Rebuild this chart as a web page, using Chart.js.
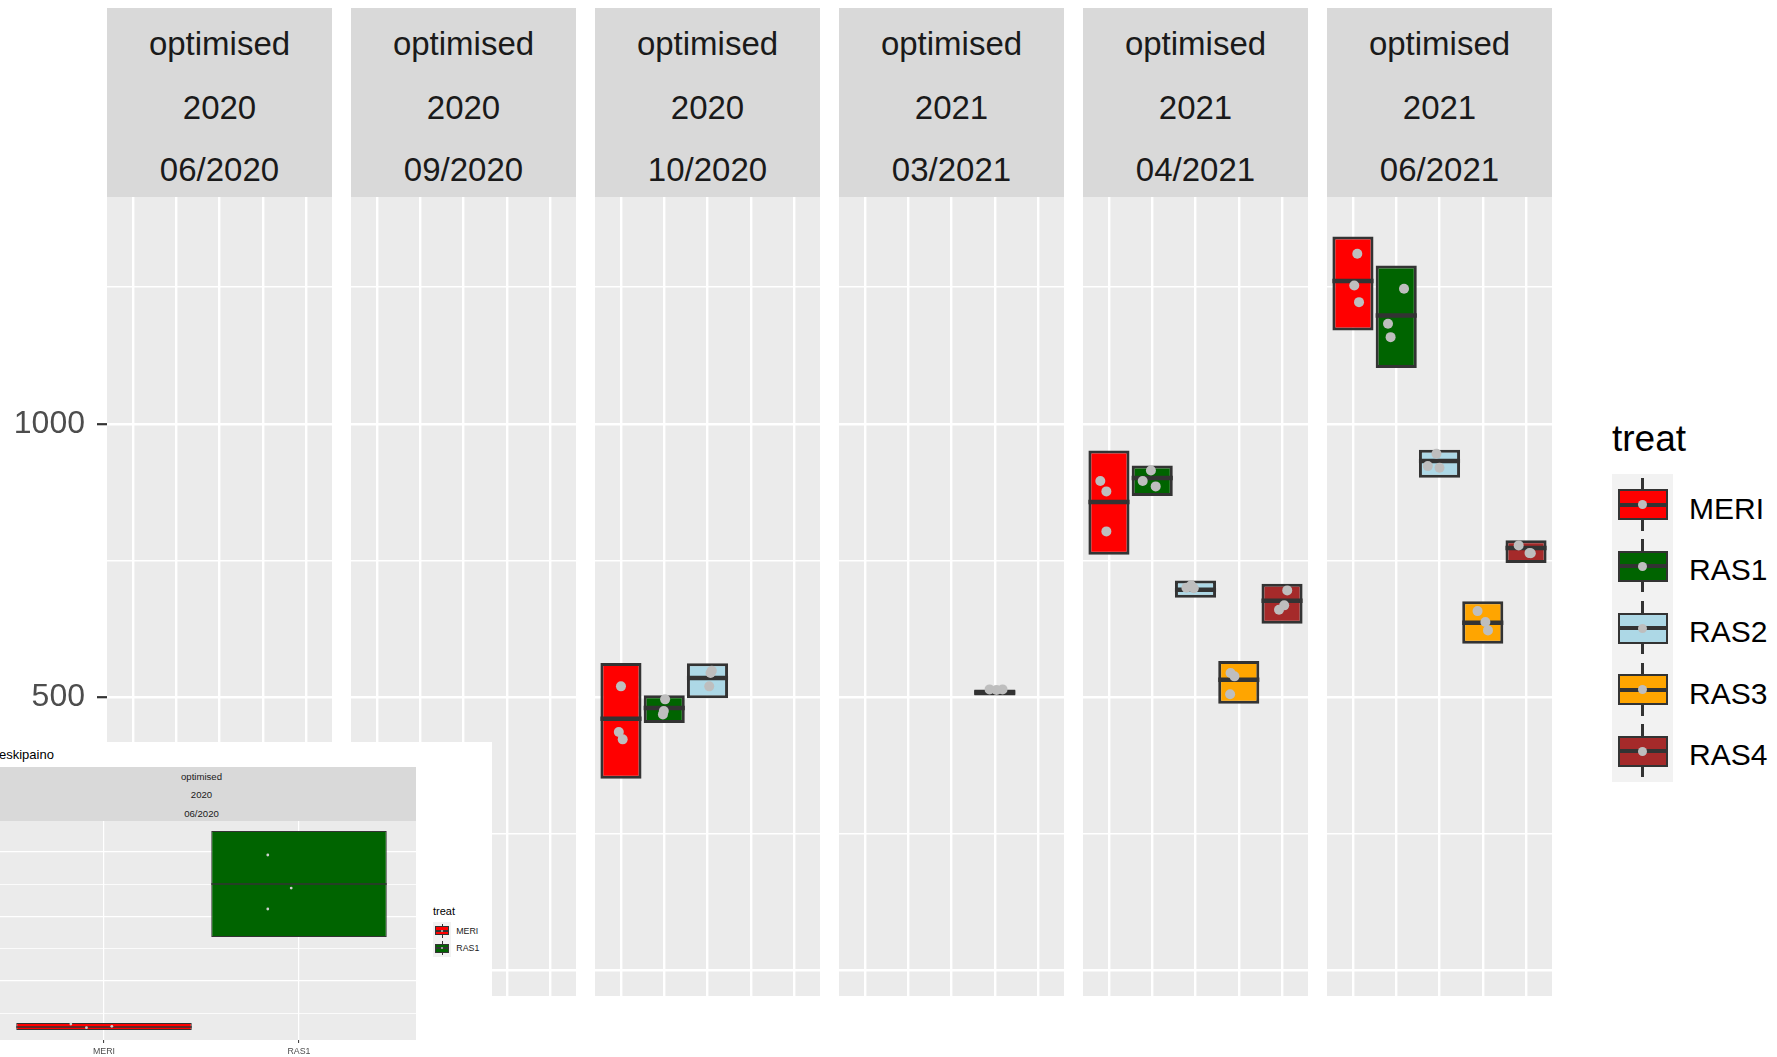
<!DOCTYPE html>
<html>
<head>
<meta charset="utf-8">
<script src="https://cdn.jsdelivr.net/npm/chart.js@4.4.1/dist/chart.umd.min.js"></script>
<style>
  html, body { margin: 0; padding: 0; background: #ffffff; }
  body { width: 1777px; height: 1057px; position: relative; overflow: hidden;
         font-family: "Liberation Sans", Arial, Helvetica, sans-serif; }
  canvas { position: absolute; display: block; }
</style>
</head>
<body>
<script>
// ---------------- DATA ----------------
const treatments   = ['MERI', 'RAS1', 'RAS2', 'RAS3', 'RAS4'];
const treatColors  = ['#FF0000', '#006400', '#ADD8E6', '#FFA500', '#A52A2A'];
const facetDesign  = ['optimised', 'optimised', 'optimised', 'optimised', 'optimised', 'optimised'];
const facetYear    = ['2020', '2020', '2020', '2021', '2021', '2021'];
const facetDate    = ['06/2020', '09/2020', '10/2020', '03/2021', '04/2021', '06/2021'];

const yTickValues  = [0, 250, 500, 750, 1000, 1250];
const yLabelValues = [0, 500, 1000];
const yRange       = [-47, 1415];
const xTickValues  = [1, 2, 3, 4, 5];

// box statistics per facet, columns = MERI, RAS1, RAS2, RAS3, RAS4
const boxLower = [
  [23.6, 168.0, null, null, null],
  [null, null, null, null, null],
  [350.7, 452.4, 497.6, null, null],
  [null, null, null, 503.0, null],
  [760.5, 867.7, 681.9, 487.9, 634.3],
  [1170.9, 1101.9, 901.4, 597.7, 745.1]
];
const boxMedian = [
  [28.3, 250.3, null, null, null],
  [null, null, null, null, null],
  [460.5, 479.9, 534.8, null, null],
  [null, null, null, 508.5, null],
  [856.8, 900.7, 696.5, 531.8, 676.1],
  [1261.1, 1198.3, 931.8, 636.1, 772.6]
];
const boxUpper = [
  [34.5, 332.6, null, null, null],
  [null, null, null, null, null],
  [562.2, 503.1, 561.7, null, null],
  [null, null, null, 514.0, null],
  [951.3, 923.9, 713.5, 565.9, 707.5],
  [1342.8, 1289.8, 952.6, 675.1, 786.7]
];
// observations: [treatment, horizontal jitter (category units), value]
const observations = [
  [['MERI', -0.17, 32.9], ['MERI', -0.09, 27.2], ['MERI', 0.04, 29.3],
   ['RAS1', -0.16, 295.3], ['RAS1', -0.04, 244.0], ['RAS1', -0.16, 211.5]],
  [],
  [['MERI', 0.00, 519.6], ['MERI', -0.05, 436.0], ['MERI', 0.04, 422.6],
   ['RAS1', 0.02, 495.8], ['RAS1', -0.01, 474.4], ['RAS1', -0.03, 468.3],
   ['RAS2', 0.10, 548.3], ['RAS2', 0.07, 544.0], ['RAS2', 0.04, 519.6]],
  [['RAS3', -0.12, 514.0], ['RAS3', 0.18, 514.0], ['RAS3', 0.04, 513.0]],
  [['MERI', -0.20, 895.2], ['MERI', -0.06, 876.3], ['MERI', -0.06, 803.1],
   ['RAS1', -0.03, 914.7], ['RAS1', -0.22, 895.2], ['RAS1', 0.08, 885.5],
   ['RAS2', -0.21, 700.1], ['RAS2', -0.10, 704.4], ['RAS2', -0.04, 699.0],
   ['RAS3', -0.19, 543.9], ['RAS3', -0.10, 537.9], ['RAS3', -0.20, 505.0],
   ['RAS4', 0.12, 695.2], ['RAS4', 0.05, 667.8], ['RAS4', -0.07, 659.9]],
  [['MERI', 0.10, 1311.2], ['MERI', 0.03, 1253.2], ['MERI', 0.14, 1222.6],
   ['RAS1', 0.18, 1247.2], ['RAS1', -0.19, 1183.1], ['RAS1', -0.13, 1158.6],
   ['RAS2', -0.07, 945.3], ['RAS2', -0.27, 922.6], ['RAS2', 0.00, 919.7],
   ['RAS3', -0.12, 657.3], ['RAS3', 0.06, 637.2], ['RAS3', 0.12, 622.0],
   ['RAS4', -0.17, 777.5], ['RAS4', 0.08, 763.4], ['RAS4', 0.11, 763.0]]
];

// inset (separate plot of 06/2020)
const insetTitle       = 'eskipaino';
const insetTreatments  = ['MERI', 'RAS1'];
const insetColors      = ['#FF0000', '#006400'];
const insetLower       = [23.6, 168.0];
const insetMedian      = [28.3, 250.3];
const insetUpper       = [34.5, 332.6];
const insetObs         = [['MERI', -0.17, 32.9], ['MERI', -0.09, 27.2], ['MERI', 0.04, 29.3],
                          ['RAS1', -0.16, 295.3], ['RAS1', -0.04, 244.0], ['RAS1', -0.16, 211.5]];
const insetYTicks      = [50, 100, 150, 200, 250, 300];
const insetYMajor      = [100, 200, 300];
const insetYRange      = [8.1, 348.1];
const insetXTicks      = [1, 2];
const legendTitle      = 'treat';

// ---------------- RENDERING ----------------
const FONT = '"Liberation Sans", Arial, Helvetica, sans-serif';
Chart.defaults.font.family = FONT;

const panelBg = {
  id: 'panelBg',
  beforeDraw(chart, args, opts) {
    const a = chart.chartArea, ctx = chart.ctx;
    ctx.save();
    ctx.fillStyle = opts.color || '#EBEBEB';
    ctx.fillRect(a.left, a.top, a.right - a.left, a.bottom - a.top);
    ctx.restore();
  }
};

function el(parent, tag, css, text) {
  const d = document.createElement(tag);
  Object.assign(d.style, css);
  if (text !== undefined) d.textContent = text;
  parent.appendChild(d);
  return d;
}
function textAt(parent, txt, left, baseline, fs, color, extra) {
  return el(parent, 'div', Object.assign({
    position: 'absolute', left: left + 'px', top: (baseline - 0.8465 * fs) + 'px',
    fontSize: fs + 'px', lineHeight: fs + 'px', color: color, whiteSpace: 'nowrap'
  }, extra || {}), txt);
}
function makeCanvas(parent, left, top, w, h) {
  const c = document.createElement('canvas');
  c.width = w; c.height = h;
  c.style.left = left + 'px'; c.style.top = top + 'px';
  c.style.width = w + 'px'; c.style.height = h + 'px';
  parent.appendChild(c);
  return c;
}

function boxChart(canvas, cfg) {
  const st = cfg.style;
  const boxes = [], fills = [], meds = [], pts = [];
  cfg.names.forEach((n, i) => {
    if (cfg.lower[i] == null) return;
    boxes.push({ x: i + 1, y: [cfg.lower[i], cfg.upper[i]] });
    fills.push(cfg.colors[i]);
    meds.push({ x: i + 1, y: cfg.median[i] });
  });
  cfg.obs.forEach(o => pts.push({ x: cfg.names.indexOf(o[0]) + 1 + o[1], y: o[2] }));
  const halfBox = c => {
    const s = c.chart.scales.x;
    return Math.abs(s.getPixelForValue(1 + st.boxWidth / 2) - s.getPixelForValue(1));
  };
  const isMajorY = c => !!(c && c.tick && cfg.yMajor.includes(c.tick.value));
  return new Chart(canvas, {
    type: 'bar',
    data: {
      datasets: [
        { type: 'scatter', data: pts, order: 1, pointRadius: st.ptR, pointHoverRadius: st.ptR,
          pointBackgroundColor: st.ptColor, pointBorderWidth: 0, clip: false },
        { type: 'scatter', data: meds, order: 2, pointStyle: 'line', pointRadius: halfBox,
          pointHoverRadius: halfBox, pointBorderColor: '#333333', pointBorderWidth: st.medW, clip: false },
        { type: 'bar', data: boxes, order: 3, backgroundColor: fills, borderColor: '#333333',
          borderWidth: st.boxBorder, borderSkipped: false, barPercentage: st.boxWidth,
          categoryPercentage: 1 }
      ]
    },
    options: {
      responsive: false, animation: false, events: [],
      layout: { padding: 0, autoPadding: false },
      plugins: { legend: { display: false }, tooltip: { enabled: false }, panelBg: { color: '#EBEBEB' } },
      scales: {
        x: {
          type: 'linear', min: 0.4, max: cfg.xMax, bounds: 'data', offset: false,
          afterBuildTicks: s => { s.ticks = cfg.xTicks.map(v => ({ value: v })); },
          grid: { color: '#FFFFFF', lineWidth: st.gridMajor, offset: false,
                  drawTicks: cfg.xAxisHeight > 0, tickLength: st.xTickLen,
                  tickColor: '#333333', tickWidth: st.xTickW },
          border: { display: false },
          ticks: { display: cfg.xAxisHeight > 0, autoSkip: false, maxRotation: 0, minRotation: 0,
                   padding: st.xLabelPad, color: '#4D4D4D', font: { size: st.xLabelSize },
                   callback: v => cfg.names[v - 1] || '' },
          afterFit: s => { s.height = cfg.xAxisHeight; s.paddingLeft = 0; s.paddingRight = 0; }
        },
        y: {
          type: 'linear', position: 'left', min: cfg.yMin, max: cfg.yMax, bounds: 'data',
          beginAtZero: false,
          afterBuildTicks: s => { s.ticks = cfg.yTicks.map(v => ({ value: v })); },
          grid: { color: '#FFFFFF',
                  lineWidth: c => isMajorY(c) ? st.gridMajor : st.gridMinor,
                  drawTicks: cfg.showY, tickLength: st.yTickLen,
                  tickColor: c => isMajorY(c) ? '#333333' : 'rgba(0,0,0,0)',
                  tickWidth: st.yTickW },
          border: { display: false },
          ticks: { display: cfg.showY, autoSkip: false, padding: st.yLabelPad, color: '#4D4D4D',
                   font: { size: st.yLabelSize },
                   callback: v => cfg.yMajor.includes(v) ? String(v) : '' },
          afterFit: s => { s.width = cfg.yAxisWidth; s.paddingTop = 0; s.paddingBottom = 0; }
        }
      }
    },
    plugins: [panelBg]
  });
}

const body = document.body;

// ---- main facets ----
const P_LEFT0 = 107, P_STEP = 244, P_W = 225, P_TOP = 197, P_BOTTOM = 996, S_TOP = 8;
const mainStyle = { boxWidth: 0.95, boxBorder: 3, medW: 4.5, ptR: 5, ptColor: '#BEBEBE',
  gridMajor: 2.4, gridMinor: 1.5, yTickLen: 10, yTickW: 2.2, yLabelPad: 12, yLabelSize: 32,
  xTickLen: 0, xTickW: 0, xLabelPad: 0, xLabelSize: 10 };

facetDate.forEach((date, k) => {
  const left = P_LEFT0 + k * P_STEP;
  const strip = el(body, 'div', { position: 'absolute', left: left + 'px', top: S_TOP + 'px',
    width: P_W + 'px', height: (P_TOP - S_TOP) + 'px', background: '#D9D9D9' });
  [facetDesign[k], facetYear[k], date].forEach((t, r) => {
    textAt(strip, t, 0, [47, 111, 173][r], 33, '#1A1A1A', { width: P_W + 'px', textAlign: 'center' });
  });
  const withAxis = k === 0;
  const cLeft = withAxis ? 0 : left;
  const cW = withAxis ? left + P_W : P_W;
  const cv = makeCanvas(body, cLeft, P_TOP, cW, P_BOTTOM - P_TOP);
  boxChart(cv, {
    names: treatments, colors: treatColors,
    lower: boxLower[k], median: boxMedian[k], upper: boxUpper[k], obs: observations[k],
    xMax: 5.6, xTicks: xTickValues, yMin: yRange[0], yMax: yRange[1],
    yTicks: yTickValues, yMajor: yLabelValues, showY: withAxis,
    yAxisWidth: withAxis ? left : 0, xAxisHeight: 0, style: mainStyle
  });
});

// ---- main legend ----
function legendKey(parent, cx, cy, fill, s) {
  el(parent, 'div', { position: 'absolute', left: (cx - s.lineW / 2) + 'px', top: (cy - s.whUp) + 'px',
    width: s.lineW + 'px', height: (s.whUp + s.whDown) + 'px', background: '#333333' });
  el(parent, 'div', { position: 'absolute', left: (cx - s.bw / 2) + 'px', top: (cy - s.bh / 2) + 'px',
    width: s.bw + 'px', height: s.bh + 'px', background: fill, border: s.border + 'px solid #333333',
    boxSizing: 'border-box' });
  el(parent, 'div', { position: 'absolute', left: (cx - s.bw / 2) + 'px', top: (cy - s.med / 2) + 'px',
    width: s.bw + 'px', height: s.med + 'px', background: '#333333' });
  el(parent, 'div', { position: 'absolute', left: (cx - s.dot) + 'px', top: (cy - s.dot) + 'px',
    width: (2 * s.dot) + 'px', height: (2 * s.dot) + 'px', borderRadius: '50%', background: '#BEBEBE' });
}
textAt(body, legendTitle, 1612, 451.5, 37, '#000000');
const LG = { left: 1611.7, top: 474, w: 61.6, step: 61.6 };
el(body, 'div', { position: 'absolute', left: LG.left + 'px', top: LG.top + 'px', width: LG.w + 'px',
  height: (LG.step * treatments.length) + 'px', background: '#F2F2F2' });
const mainKey = { bw: 50, bh: 31, whUp: 27, whDown: 26, border: 2.5, med: 4, dot: 4.5, lineW: 2.2 };
treatments.forEach((t, i) => {
  const cy = LG.top + LG.step / 2 + LG.step * i;
  legendKey(body, LG.left + LG.w / 2, cy, treatColors[i], mainKey);
  textAt(body, t, 1689, cy + 14.3, 30, '#000000');
});

// ---- inset ----
const inset = el(body, 'div', { position: 'absolute', left: '0px', top: '742px', width: '492px',
  height: '315px', background: '#FFFFFF', overflow: 'hidden', zIndex: 10 });
textAt(inset, insetTitle, -1, 17.3, 13, '#000000');
const iStrip = el(inset, 'div', { position: 'absolute', left: '-13px', top: '25px', width: '429px',
  height: '54px', background: '#D9D9D9' });
[facetDesign[0], facetYear[0], facetDate[0]].forEach((t, r) => {
  textAt(iStrip, t, 0, [13.2, 31.6, 49.8][r], 9.6, '#1A1A1A', { width: '429px', textAlign: 'center' });
});
const iStyle = { boxWidth: 0.9, boxBorder: 1, medW: 1.6, ptR: 1.4, ptColor: '#CFCFCF',
  gridMajor: 1.2, gridMinor: 0.8, yTickLen: 0, yTickW: 0, yLabelPad: 0, yLabelSize: 9,
  xTickLen: 3, xTickW: 1, xLabelPad: 3, xLabelSize: 8.8 };
const iCv = makeCanvas(inset, -13, 79, 429, 236);
boxChart(iCv, {
  names: insetTreatments, colors: insetColors,
  lower: insetLower, median: insetMedian, upper: insetUpper, obs: insetObs,
  xMax: 2.6, xTicks: insetXTicks, yMin: insetYRange[0], yMax: insetYRange[1],
  yTicks: insetYTicks, yMajor: insetYMajor, showY: false,
  yAxisWidth: 0, xAxisHeight: 17, style: iStyle
});
textAt(inset, legendTitle, 433, 173.7, 11, '#000000');
const ILG = { left: 433.3, top: 180.3, w: 17.4, step: 17.2 };
el(inset, 'div', { position: 'absolute', left: ILG.left + 'px', top: ILG.top + 'px', width: ILG.w + 'px',
  height: (ILG.step * insetTreatments.length) + 'px', background: '#F2F2F2' });
const insetKey = { bw: 14, bh: 9, whUp: 7, whDown: 7, border: 1, med: 1.4, dot: 1.3, lineW: 0.9 };
insetTreatments.forEach((t, i) => {
  const cy = ILG.top + ILG.step / 2 + ILG.step * i;
  legendKey(inset, ILG.left + ILG.w / 2, cy, insetColors[i], insetKey);
  textAt(inset, t, 456.3, cy + 3.2, 8.8, '#1A1A1A');
});
</script>
</body>
</html>
